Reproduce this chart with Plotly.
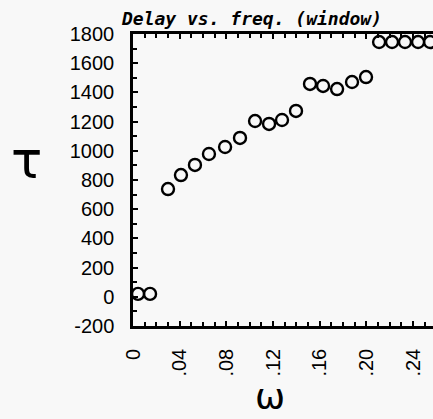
import plotly.graph_objects as go

# data
omega = [0.0043, 0.0146, 0.0300, 0.0411, 0.0531, 0.0651, 0.0789, 0.0917, 0.1046,
         0.1166, 0.1277, 0.1397, 0.1517, 0.1629, 0.1749, 0.1877, 0.1997, 0.2109,
         0.2220, 0.2331, 0.2443, 0.2546]
tau = [20, 20, 738, 834, 903, 978, 1026, 1088, 1204, 1184, 1211, 1273,
       1458, 1444, 1423, 1471, 1505, 1745, 1745, 1745, 1745, 1745]

x_tickvals = [0, 0.04, 0.08, 0.12, 0.16, 0.20, 0.24]
x_ticktext = ["0", ".04", ".08", ".12", ".16", ".20", ".24"]
y_tickvals = [-200, 0, 200, 400, 600, 800, 1000, 1200, 1400, 1600, 1800]
y_ticktext = ["-200", "0", "200", "400", "600", "800", "1000", "1200", "1400", "1600", "1800"]

BG = "#f8f8f8"
FONT = "Liberation Sans"

fig = go.Figure()
fig.add_trace(go.Scatter(
    x=omega, y=tau, mode="markers",
    marker=dict(symbol="circle-open", size=12, color="black", line=dict(width=2.4, color="black")),
    cliponaxis=False, showlegend=False,
))

fig.update_layout(
    width=433, height=419,
    margin=dict(l=133, r=0, t=34, b=93),
    paper_bgcolor=BG, plot_bgcolor=BG,
    font=dict(family=FONT, size=20, color="black"),
    xaxis=dict(
        range=[0, 0.2571], showgrid=False, zeroline=False,
        showline=True, linecolor="black", linewidth=2.5, mirror="ticks",
        tickmode="array", tickvals=x_tickvals, ticktext=x_ticktext,
        tickangle=-90, ticks="inside", ticklen=5, tickwidth=1.5, tickcolor="black",
        ticklabelstandoff=12,
        minor=dict(tickmode="linear", tick0=0, dtick=0.01, ticks="inside", ticklen=4,
                   tickwidth=1.5, tickcolor="black", showgrid=False),
        tickfont=dict(family=FONT, size=20),
    ),
    yaxis=dict(
        range=[-200, 1800], showgrid=False, zeroline=False,
        showline=True, linecolor="black", linewidth=2.5,
        tickmode="array", tickvals=y_tickvals, ticktext=y_ticktext,
        ticks="inside", ticklen=5, tickwidth=1.5, tickcolor="black",
        ticklabelstandoff=12,
        minor=dict(tickmode="linear", tick0=-200, dtick=100, ticks="inside", ticklen=4,
                   tickwidth=1.5, tickcolor="black", showgrid=False),
        tickfont=dict(family=FONT, size=20),
    ),
    yaxis2=dict(
        range=[-200, 1800], overlaying="y", side="right", showgrid=False, zeroline=False,
        showline=False, tickmode="array", tickvals=y_tickvals, showticklabels=False,
        ticks="inside", ticklen=3, tickwidth=2, tickcolor="black",
    ),
    title=dict(
        text="Delay vs. freq. (window)", x=252 / 433, xanchor="center",
        y=1 - 19 / 419, yanchor="middle",
        font=dict(family="DejaVu Sans Mono", size=18, style="italic", weight="bold", color="black"),
    ),
    annotations=[
        dict(text="τ", xref="paper", yref="paper", x=-(133 - 26) / 300, y=(326 - 160) / 292,
             xanchor="center", yanchor="middle", showarrow=False,
             font=dict(family="DejaVu Sans", size=52, color="black")),
        dict(text="ω", xref="paper", yref="paper", x=(270 - 133) / 300, y=-(396 - 326) / 292,
             xanchor="center", yanchor="middle", showarrow=False,
             font=dict(family="DejaVu Sans", size=36, color="black")),
    ],
)

fig.write_html("out.html", config={"displayModeBar": False},
               post_script="document.body.style.margin='0';")
